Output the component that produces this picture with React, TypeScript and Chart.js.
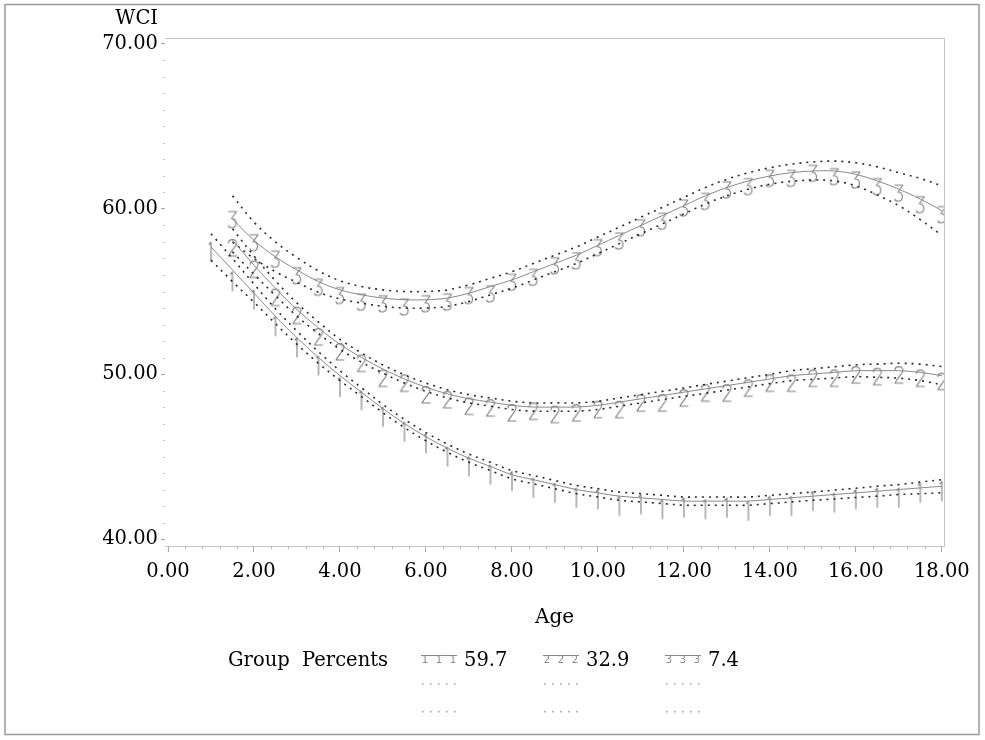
import React, { useEffect, useRef } from 'react';
import Chart from 'chart.js/auto';

// ---- data ----
const ages1 = [1.0, 1.5, 2.0, 2.5, 3.0, 3.5, 4.0, 4.5, 5.0, 5.5, 6.0, 6.5, 7.0, 7.5, 8.0, 8.5, 9.0, 9.5, 10.0, 10.5, 11.0, 11.5, 12.0, 12.5, 13.0, 13.5, 14.0, 14.5, 15.0, 15.5, 16.0, 16.5, 17.0, 17.5, 18.0];
const ages23 = [1.5, 2.0, 2.5, 3.0, 3.5, 4.0, 4.5, 5.0, 5.5, 6.0, 6.5, 7.0, 7.5, 8.0, 8.5, 9.0, 9.5, 10.0, 10.5, 11.0, 11.5, 12.0, 12.5, 13.0, 13.5, 14.0, 14.5, 15.0, 15.5, 16.0, 16.5, 17.0, 17.5, 18.0];

const g1Est = [57.7, 56.3, 54.9, 53.5, 52.2, 51.0, 49.9, 48.9, 47.9, 47.0, 46.2, 45.5, 44.9, 44.4, 43.9, 43.6, 43.3, 43.0, 42.8, 42.6, 42.5, 42.4, 42.3, 42.3, 42.3, 42.3, 42.4, 42.5, 42.6, 42.7, 42.8, 42.9, 43.0, 43.1, 43.2];
const g1Upper = [58.5, 57.0, 55.45, 53.95, 52.6, 51.35, 50.2, 49.17, 48.15, 47.25, 46.45, 45.75, 45.15, 44.65, 44.15, 43.85, 43.55, 43.25, 43.05, 42.85, 42.75, 42.65, 42.55, 42.55, 42.55, 42.55, 42.65, 42.75, 42.85, 42.97, 43.08, 43.2, 43.3, 43.45, 43.6];
const g1Lower = [56.9, 55.6, 54.35, 53.05, 51.8, 50.65, 49.6, 48.63, 47.65, 46.75, 45.95, 45.25, 44.65, 44.15, 43.65, 43.35, 43.05, 42.75, 42.55, 42.35, 42.25, 42.15, 42.05, 42.05, 42.05, 42.05, 42.15, 42.25, 42.35, 42.43, 42.52, 42.6, 42.7, 42.75, 42.8];
const g1Obs = [57.8, 56.0, 54.9, 53.3, 52.0, 50.9, 49.6, 48.8, 47.8, 46.9, 46.2, 45.4, 44.8, 44.3, 43.9, 43.5, 43.2, 42.9, 42.8, 42.4, 42.5, 42.2, 42.3, 42.2, 42.3, 42.1, 42.4, 42.4, 42.7, 42.6, 42.8, 42.9, 42.9, 43.2, 43.3];

const g2Est = [58.1, 56.6, 55.2, 53.9, 52.8, 51.8, 51.0, 50.3, 49.7, 49.2, 48.8, 48.5, 48.3, 48.1, 48.0, 48.0, 48.0, 48.1, 48.3, 48.5, 48.7, 48.9, 49.1, 49.3, 49.5, 49.7, 49.9, 50.0, 50.1, 50.2, 50.2, 50.2, 50.1, 49.9];
const g2Upper = [58.8, 57.15, 55.65, 54.3, 53.15, 52.1, 51.28, 50.55, 49.95, 49.45, 49.05, 48.75, 48.55, 48.35, 48.25, 48.25, 48.25, 48.35, 48.55, 48.75, 48.95, 49.15, 49.37, 49.57, 49.78, 49.98, 50.2, 50.32, 50.44, 50.56, 50.6, 50.65, 50.6, 50.45];
const g2Lower = [57.4, 56.05, 54.75, 53.5, 52.45, 51.5, 50.72, 50.05, 49.45, 48.95, 48.55, 48.25, 48.05, 47.85, 47.75, 47.75, 47.75, 47.85, 48.05, 48.25, 48.45, 48.65, 48.83, 49.03, 49.22, 49.42, 49.6, 49.68, 49.76, 49.84, 49.8, 49.75, 49.6, 49.35];
const g2Obs = [58.0, 56.7, 55.0, 53.9, 52.6, 51.7, 51.0, 50.1, 49.8, 49.1, 48.8, 48.4, 48.3, 48.0, 48.1, 47.9, 48.0, 48.2, 48.2, 48.6, 48.6, 48.9, 49.2, 49.2, 49.5, 49.8, 49.8, 50.1, 50.1, 50.3, 50.2, 50.3, 50.1, 49.9];

const g3Est = [59.4, 58.1, 57.1, 56.3, 55.6, 55.1, 54.8, 54.6, 54.5, 54.5, 54.6, 54.9, 55.3, 55.7, 56.2, 56.7, 57.2, 57.8, 58.4, 59.0, 59.6, 60.2, 60.8, 61.3, 61.7, 62.0, 62.2, 62.3, 62.3, 62.1, 61.7, 61.2, 60.6, 59.9];
const g3Upper = [60.8, 59.2, 58.0, 57.05, 56.25, 55.65, 55.3, 55.1, 55.0, 55.0, 55.1, 55.4, 55.8, 56.2, 56.7, 57.2, 57.7, 58.3, 58.9, 59.5, 60.1, 60.7, 61.3, 61.8, 62.2, 62.5, 62.72, 62.85, 62.9, 62.8, 62.55, 62.2, 61.85, 61.4];
const g3Lower = [58.0, 57.0, 56.2, 55.55, 54.95, 54.55, 54.3, 54.1, 54.0, 54.0, 54.1, 54.4, 54.8, 55.2, 55.7, 56.2, 56.7, 57.3, 57.9, 58.5, 59.1, 59.7, 60.3, 60.8, 61.2, 61.5, 61.68, 61.75, 61.7, 61.4, 60.85, 60.2, 59.35, 58.4];
const g3Obs = [59.6, 58.2, 57.2, 56.2, 55.5, 55.0, 54.6, 54.5, 54.3, 54.5, 54.6, 55.0, 55.1, 55.8, 56.1, 56.8, 57.1, 57.9, 58.3, 59.1, 59.5, 60.3, 60.7, 61.4, 61.6, 62.1, 62.1, 62.4, 62.2, 62.0, 61.6, 61.2, 60.5, 59.9];

const groupLabels = ['1', '2', '3'];
const groupPercents = [59.7, 32.9, 7.4];

const xTickValues = [0, 2, 4, 6, 8, 10, 12, 14, 16, 18];
const yTickValues = [40, 50, 60, 70];
const xTitle = 'Age';
const yTitle = 'WCI';
const legendTitle = 'Group  Percents';

const SERIF = '"DejaVu Serif", serif';

function pts(xs: number[], ys: number[]) {
  return xs.map((x, i) => ({ x, y: ys[i] }));
}

// thin stroked plot-symbol glyphs (point centred at canvas 8,20)
function makeGlyph(ch: string): HTMLCanvasElement {
  const c = document.createElement('canvas');
  c.width = 16;
  c.height = 40;
  const g = c.getContext('2d')!;
  g.strokeStyle = '#7e7e7e';
  g.lineWidth = 1.1;
  g.lineCap = 'round';
  g.lineJoin = 'round';
  g.beginPath();
  if (ch === '1') {
    g.moveTo(6, 19);
    g.lineTo(8, 17);
    g.lineTo(8, 36);
  } else if (ch === '2') {
    g.moveTo(4, 21);
    g.bezierCurveTo(4, 17, 12, 16, 12, 21);
    g.bezierCurveTo(12, 24, 8, 27, 4, 34);
    g.lineTo(12, 34);
  } else {
    g.moveTo(4, 16);
    g.lineTo(12, 16);
    g.lineTo(7, 23);
    g.bezierCurveTo(13, 22, 13, 33, 7, 32);
    g.bezierCurveTo(5, 32, 4, 31, 4, 30);
  }
  g.stroke();
  return c;
}

export default function App() {
  const ref = useRef<HTMLCanvasElement | null>(null);

  useEffect(() => {
    document.body.style.margin = '0';
    document.body.style.overflow = 'hidden';
    const canvas = ref.current!;
    const glyphs = groupLabels.map(makeGlyph);

    const est = [pts(ages1, g1Est), pts(ages23, g2Est), pts(ages23, g3Est)];
    const up = [pts(ages1, g1Upper), pts(ages23, g2Upper), pts(ages23, g3Upper)];
    const lo = [pts(ages1, g1Lower), pts(ages23, g2Lower), pts(ages23, g3Lower)];
    const obs = [pts(ages1, g1Obs), pts(ages23, g2Obs), pts(ages23, g3Obs)];

    const datasets: any[] = [];
    for (let g = 0; g < 3; g++) {
      datasets.push({ data: est[g], borderColor: '#8a8a8a', borderWidth: 1, pointRadius: 0, tension: 0.35, fill: false });
      datasets.push({ data: up[g], borderColor: '#2a2a2a', borderWidth: 1.6, borderDash: [2, 5], pointRadius: 0, tension: 0.35, fill: false });
      datasets.push({ data: lo[g], borderColor: '#2a2a2a', borderWidth: 1.6, borderDash: [2, 5], pointRadius: 0, tension: 0.35, fill: false });
    }
    for (let g = 0; g < 3; g++) {
      datasets.push({ data: obs[g], showLine: false, pointStyle: glyphs[g], pointRadius: 8 });
    }

    const decor = {
      id: 'decor',
      beforeDraw(chart: any) {
        const ctx = chart.ctx;
        ctx.save();
        ctx.fillStyle = '#fff';
        ctx.fillRect(0, 0, chart.width, chart.height);
        ctx.restore();
      },
      afterDraw(chart: any) {
        const ctx = chart.ctx;
        const { left, right, top, bottom } = chart.chartArea;
        const xs = chart.scales.x;
        const ys = chart.scales.y;
        ctx.save();
        // outer frame
        ctx.strokeStyle = '#9a9a9a';
        ctx.lineWidth = 1.5;
        ctx.strokeRect(5, 4.5, 974, 730);
        // top & right plot lines
        ctx.strokeStyle = '#c4c4c4';
        ctx.lineWidth = 1;
        ctx.beginPath();
        ctx.moveTo(left, top + 0.5);
        ctx.lineTo(right + 0.5, top + 0.5);
        ctx.lineTo(right + 0.5, bottom);
        ctx.stroke();
        // minor ticks x
        ctx.strokeStyle = '#b8b8b8';
        ctx.beginPath();
        for (let i = 0; i <= 45; i++) {
          const v = i * 0.4;
          if (i % 5 === 0) continue;
          const px = Math.round(xs.getPixelForValue(v)) + 0.5;
          ctx.moveTo(px, bottom);
          ctx.lineTo(px, bottom + 3);
        }
        ctx.stroke();
        // minor ticks y
        ctx.fillStyle = '#b0b0b0';
        for (let v = 40; v <= 70; v++) {
          if (v % 10 === 0) continue;
          const py = Math.round(ys.getPixelForValue(v));
          ctx.fillRect(left - 2, py, 1.5, 1);
        }
        // y title
        ctx.fillStyle = '#000';
        ctx.font = '19.5px ' + SERIF;
        ctx.textAlign = 'right';
        ctx.textBaseline = 'middle';
        ctx.fillText(yTitle, 158, 19);
        // legend
        ctx.textAlign = 'left';
        ctx.fillText(legendTitle, 228, 661);
        const cols = [421, 543, 665];
        for (let g = 0; g < 3; g++) {
          const x0 = cols[g];
          ctx.strokeStyle = '#8a8a8a';
          ctx.lineWidth = 1;
          ctx.beginPath();
          ctx.moveTo(x0, 655.5);
          ctx.lineTo(x0 + 36, 655.5);
          ctx.stroke();
          ctx.fillStyle = '#8a8a8a';
          ctx.font = '10px "DejaVu Sans", sans-serif';
          ctx.textAlign = 'center';
          for (let k = 0; k < 3; k++) ctx.fillText(groupLabels[g], x0 + 4 + k * 14, 660);
          ctx.fillStyle = '#000';
          ctx.font = '19.5px ' + SERIF;
          ctx.textAlign = 'left';
          ctx.fillText(groupPercents[g].toFixed(1), x0 + 43, 661);
          ctx.fillStyle = '#a0a0a0';
          for (const ry of [683, 711]) {
            for (let k = 0; k < 5; k++) ctx.fillRect(x0 + 1 + k * 8, ry, 1.5, 1.5);
          }
        }
        ctx.restore();
      },
    };

    const chart = new Chart(canvas, {
      type: 'line',
      data: { datasets },
      plugins: [decor],
      options: {
        animation: false,
        responsive: false,
        devicePixelRatio: 1,
        layout: { padding: { left: 0, right: 41, top: 38, bottom: 94 } },
        plugins: { legend: { display: false }, tooltip: { enabled: false }, title: { display: false } },
        scales: {
          x: {
            type: 'linear',
            min: -0.07,
            max: 18.05,
            afterBuildTicks: (s: any) => { s.ticks = xTickValues.map((v) => ({ value: v })); },
            afterFit: (s: any) => { s.height = 100; },
            border: { display: true, color: '#c4c4c4', width: 1 },
            grid: { drawOnChartArea: false, drawTicks: true, tickLength: 6, tickColor: '#a8a8a8' },
            ticks: {
              autoSkip: false,
              maxRotation: 0,
              padding: 8,
              color: '#000',
              font: { family: SERIF, size: 19.5 },
              callback: (v: any) => Number(v).toFixed(2),
            },
            title: { display: true, text: xTitle, color: '#000', font: { family: SERIF, size: 20 }, padding: { top: 0, bottom: 16 } },
          },
          y: {
            type: 'linear',
            min: 39.58,
            max: 70.36,
            afterBuildTicks: (s: any) => { s.ticks = yTickValues.map((v) => ({ value: v })); },
            afterFit: (s: any) => { s.width = 165; },
            border: { display: false },
            grid: { drawOnChartArea: false, drawTicks: true, tickLength: 4, tickColor: '#a8a8a8' },
            ticks: {
              autoSkip: false,
              padding: 3,
              color: '#000',
              font: { family: SERIF, size: 19.5 },
              callback: (v: any) => Number(v).toFixed(2),
            },
          },
        },
      },
    });
    return () => chart.destroy();
  }, []);

  return (
    <div style={{ width: 985, height: 740, position: 'relative' }}>
      <canvas ref={ref} width={985} height={740} style={{ display: 'block', width: 985, height: 740 }} />
    </div>
  );
}
